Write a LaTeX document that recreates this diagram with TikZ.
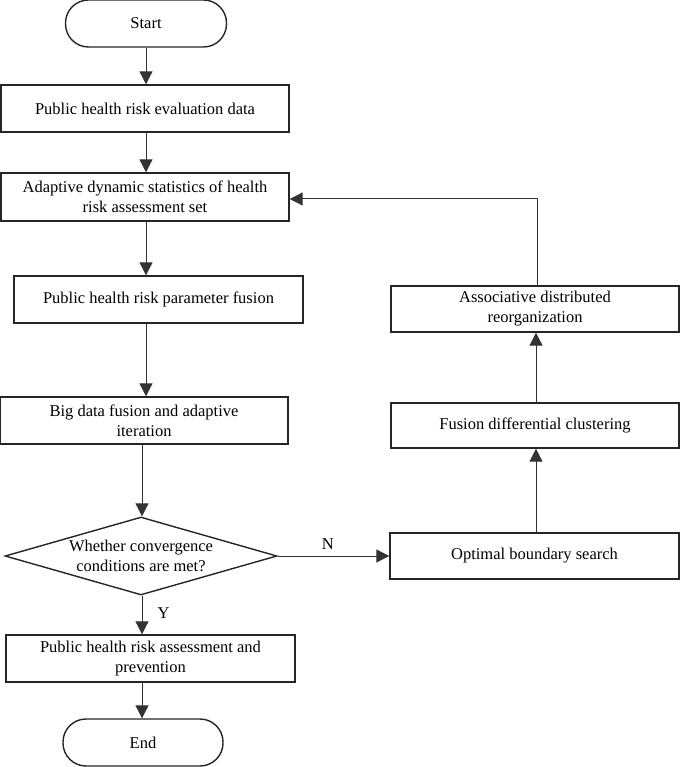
\documentclass[tikz,border=0pt]{standalone}
\usepackage{fontspec}
\setmainfont{Liberation Serif}
\usetikzlibrary{arrows.meta,shapes.geometric}
\begin{document}
\begin{tikzpicture}[x=1pt,y=-1pt,
  basebox/.style={draw=black!85, line width=1.4pt, inner sep=0pt, align=center,
    font=\fontsize{16.5}{20}\selectfont, text=black},
  procbox/.style={basebox, minimum width=288pt, minimum height=47pt},
  termbox/.style={basebox, rounded corners=23pt, minimum width=161pt, minimum height=47pt},
  decbox/.style={basebox, diamond, aspect=3.5, minimum width=272pt, minimum height=78pt},
  arr/.style={draw=black!80, line width=1pt, -{Triangle[length=13pt,width=13pt]}},
  lbl/.style={font=\fontsize{16.5}{20}\selectfont, inner sep=0pt}
]
\useasboundingbox (0,0) rectangle (680,767);
\fill[white] (0,0) rectangle (680,767);

\node[termbox] (start) at (146,23.5) {Start};
\node[procbox] (b1) at (145,108.5) {Public health risk evaluation data};
\node[procbox, minimum height=48pt] (b2) at (145,197) {Adaptive dynamic statistics of health\\risk assessment set};
\node[procbox, minimum width=289pt] (b3) at (158.5,299.5) {Public health risk parameter fusion};
\node[procbox] (b4) at (144,420.5) {Big data fusion and adaptive\\iteration};
\node[decbox] (dec) at (141,556) {Whether convergence\\conditions are met?};
\node[procbox, minimum width=289pt] (b5) at (150.5,658.5) {Public health risk assessment and\\prevention};
\node[termbox, minimum width=160pt] (end) at (143,742.5) {End};

\node[procbox, minimum width=289pt, minimum height=46pt] (r3) at (534.5,556) {Optimal boundary search};
\node[procbox, minimum height=45pt] (r2) at (535,425.5) {Fusion differential clustering};
\node[procbox, minimum height=46pt] (r1) at (535,309) {Associative distributed\\reorganization};

\coordinate (cx) at (146,0);
\coordinate (cy) at (142,0);
\coordinate (rx) at (536,0);

\draw[arr] (start.south -| cx) -- (b1.north -| cx);
\draw[arr] (b1.south -| cx) -- (b2.north -| cx);
\draw[arr] (b2.south -| cx) -- (b3.north -| cx);
\draw[arr] (b3.south -| cx) -- (b4.north -| cx);
\draw[arr] (b4.south -| cy) -- (dec.north -| cy);
\draw[arr] (dec.south -| cy) -- (b5.north -| cy) node[lbl, pos=0.45, right=15pt] {Y};
\draw[arr] (b5.south -| cy) -- (end.north -| cy);

\draw[arr] (dec.east) -- (r3.west) node[lbl, pos=0.45, above=6pt] {N};
\draw[arr] (r3.north -| rx) -- (r2.south -| rx);
\draw[arr] (r2.north -| rx) -- (r1.south -| rx);
\coordinate (lp) at (537,199);
\draw[arr] (r1.north -| lp) -- (lp) -- (b2.east |- lp);
\end{tikzpicture}
\end{document}
